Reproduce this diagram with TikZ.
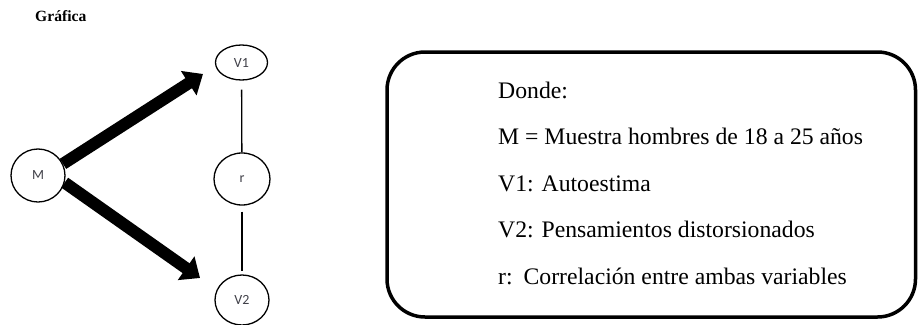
\documentclass[tikz,border=0pt]{standalone}
\usepackage{fontspec}
\setmainfont{Liberation Serif}
\newfontfamily\calib{Carlito}
\usetikzlibrary{shapes.geometric,arrows.meta}
\definecolor{lbl}{RGB}{64,64,72}
\tikzset{
  varnode/.style={draw, ellipse, line width=1.3pt, inner sep=0pt, text=lbl,
    font=\calib\fontsize{14}{16}\selectfont},
  bigarrow/.style={line width=12pt, -{Triangle[width=28pt,length=17pt]}},
  thin link/.style={line width=1.3pt},
  legend/.style={anchor=base west, inner sep=0pt, font=\fontsize{23.7}{28}\selectfont},
  legendbox/.style={draw, line width=3.5pt, rounded corners=38pt, inner sep=0pt}
}
\begin{document}
\begin{tikzpicture}[x=1pt,y=-1pt]
\useasboundingbox (0,0) rectangle (918,324);
\node[anchor=base west, inner sep=0pt, font=\bfseries\fontsize{15.6}{18}\selectfont] (title) at (35,21.7) {Gráfica};

\node[varnode, minimum width=54pt, minimum height=53pt] (M) at (38,175.5) {M};
\node[varnode, minimum width=52pt, minimum height=35pt] (V1) at (241.5,62.5) {V1};
\node[varnode, minimum width=56pt, minimum height=52pt] (r) at (242,179) {r};
\node[varnode, minimum width=54pt, minimum height=50pt] (V2) at (242,300) {V2};

\coordinate (t1) at (203,74);
\coordinate (t2) at (200,278);
\draw[bigarrow] (M.25) -- (t1);
\draw[bigarrow] (M.-15) -- (t2);

\draw[thin link, shorten <=9pt] (V1) -- (r);
\draw[thin link, shorten <=6pt, shorten >=3pt] (r) -- (V2);

\node[legendbox, minimum width=528.5pt, minimum height=265pt] (box) at (651.25,184.5) {};
\node[legend] (l1) at (498,98) {Donde:};
\node[legend] (l2) at (498,144.5) {M = Muestra hombres de 18 a 25 años};
\node[legend] (l3) at (498,191) {V1: Autoestima};
\node[legend] (l4) at (498,237.5) {V2: Pensamientos distorsionados};
\node[legend] (l5) at (498,284) {r:\hspace{11pt}Correlación entre ambas variables};
\end{tikzpicture}
\end{document}
